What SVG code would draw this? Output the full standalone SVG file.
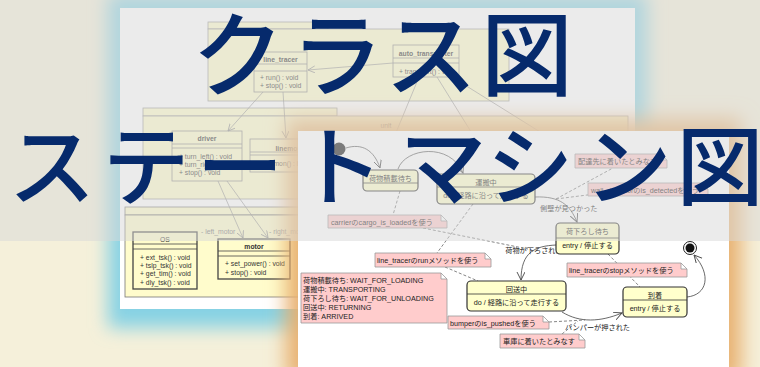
<svg xmlns="http://www.w3.org/2000/svg" width="760" height="367" viewBox="0 0 760 367">
<defs>
<style>
.pk{fill:#fffccc;stroke:#999;stroke-width:0.8}
.cl{fill:#fffccc;stroke:#888;stroke-width:0.8}
.cd{fill:#fffccc;stroke:#444;stroke-width:1.3}
.ln{stroke:#888;stroke-width:0.7;fill:none}
.ct{font-family:"Liberation Sans","Noto Sans CJK JP",sans-serif;font-size:6.8px;fill:#333}
.cb{font-weight:bold;text-anchor:middle}
.st{fill:#ffffcc;stroke:#333;stroke-width:1.2}
.sl{stroke:#333;stroke-width:0.8}
.tx{font-family:"Liberation Sans","Noto Sans CJK JP",sans-serif;font-size:7.2px;fill:#222}
.mid{text-anchor:middle}
.tr{stroke:#444;stroke-width:0.8;fill:none;marker-end:url(#sa)}
.ds{stroke:#666;stroke-width:0.8;fill:none;stroke-dasharray:3 2}
.nt{fill:#ffcccc;stroke:#999;stroke-width:0.8}
.big{font-family:"Noto Sans CJK JP",sans-serif;font-weight:500;fill:#062a6c;text-anchor:middle}
</style>
<marker id="oa" markerUnits="userSpaceOnUse" markerWidth="9" markerHeight="9" refX="7" refY="3.5" orient="auto"><path d="M0,0 L7,3.5 L0,7" fill="none" stroke="#888" stroke-width="0.8"/></marker>
<marker id="sa" markerUnits="userSpaceOnUse" markerWidth="10" markerHeight="10" refX="8" refY="4" orient="auto"><path d="M0,0 L8,4 L0,8" fill="none" stroke="#444" stroke-width="0.9"/></marker>
<filter id="bl" x="-20%" y="-20%" width="140%" height="140%"><feGaussianBlur stdDeviation="9"/></filter>
<filter id="bl2" x="-20%" y="-20%" width="140%" height="140%"><feGaussianBlur stdDeviation="10"/></filter>
</defs>
<rect width="760" height="367" fill="#f5f0da"/>
<rect x="108" y="-6" width="539" height="334" fill="#86d2e4" filter="url(#bl)"/>

<g id="class-diagram">
<rect x="120" y="8" width="515" height="301" fill="#fff"/>
<g id="pkg-app"><rect class="pk" x="208" y="22" width="120" height="7"/><rect class="pk" x="208" y="29" width="301" height="72"/></g>
<g id="pkg-unit"><rect class="pk" x="143" y="108" width="194" height="8"/><rect class="pk" x="143" y="116" width="485" height="83"/><text class="ct mid" x="386" y="128">unit</text></g>
<g id="pkg-os"><rect class="pk" x="125" y="207" width="320" height="8" style="stroke:#777"/><rect class="pk" x="125" y="215" width="420" height="82" style="stroke:#777"/></g>
<g id="line_tracer"><rect class="cl" x="254" y="52" width="53" height="40"/><path class="sl" d="M254,64H307M254,71H307" style="stroke:#888"/><text class="ct cb" x="280.5" y="61.5">line_tracer</text><text class="ct" x="260" y="79.5">+ run() : void</text><text class="ct" x="260" y="87.5">+ stop() : void</text></g>
<g id="auto_transporter"><rect class="cl" x="393" y="45" width="66" height="32"/><path class="sl" d="M393,58H459M393,63H459" style="stroke:#888"/><text class="ct cb" x="426" y="55.5" font-size="6.5">auto_transporter</text><text class="ct" x="399" y="73.5">+ transport() : void</text></g>
<g id="driver"><rect class="cl" x="172" y="131" width="70" height="50"/><path class="sl" d="M172,144H242M172,148H242" style="stroke:#888"/><text class="ct cb" x="207" y="140.5">driver</text><text class="ct" x="179" y="158.5">+ turn_left() : void</text><text class="ct" x="179" y="166.5">+ turn_right() : void</text><text class="ct" x="179" y="174.5">+ stop() : void</text></g>
<g id="linemonitor"><rect class="cl" x="250" y="139" width="90" height="33"/><path class="sl" d="M250,152H340M250,155H340" style="stroke:#888"/><text class="ct cb" x="294" y="150.5">linemonitor</text><text class="ct" x="257" y="165.5">+ linemon() : bool</text></g>
<g id="OS"><rect class="cd" x="133" y="232" width="64" height="57"/><path class="sl" d="M133,244H197M133,249H197" style="stroke:#444"/><text class="ct mid" x="165" y="241.5">OS</text><text class="ct" x="140" y="259.5">+ ext_tsk() : void</text><text class="ct" x="140" y="267.5">+ tslp_tsk() : void</text><text class="ct" x="140" y="275.5">+ get_tim() : void</text><text class="ct" x="140" y="284.5">+ dly_tsk() : void</text></g>
<g id="motor"><rect class="cd" x="218" y="239" width="72" height="40"/><path class="sl" d="M218,251H290M218,256H290" style="stroke:#444"/><text class="ct cb" x="254" y="248.5">motor</text><text class="ct" x="225" y="265.5">+ set_power() : void</text><text class="ct" x="225" y="274.5">+ stop() : void</text></g>
<g id="class-connectors">
<line class="ln" x1="393" y1="63" x2="308" y2="70" marker-end="url(#oa)"/>
<line class="ln" x1="419" y1="77" x2="395" y2="135"/>
<line class="ln" x1="437" y1="77" x2="473" y2="135"/>
<line class="ln" x1="452" y1="77" x2="545" y2="135"/>
<line class="ln" x1="263" y1="92" x2="228" y2="131" marker-end="url(#oa)"/>
<line class="ln" x1="283" y1="92" x2="286" y2="138" marker-end="url(#oa)"/>
<line class="ln" x1="218" y1="181" x2="243" y2="238" marker-end="url(#oa)"/>
<line class="ln" x1="227" y1="181" x2="268" y2="238" marker-end="url(#oa)"/>
<text class="ct" x="201" y="233.5" style="fill:#777">- left_motor</text>
<text class="ct" x="269" y="233.5" style="fill:#777">- right_motor</text>
</g>
</g>

<rect x="286" y="119" width="455" height="262" fill="#e8b070" filter="url(#bl2)"/>

<g id="state-diagram">
<rect x="298" y="131" width="431" height="236" fill="#fff"/>
<g id="state-connectors">
<path class="tr" d="M346,148 C362,143 374,150 380,168"/>
<path class="tr" d="M398,169 C405,148 450,142 463,173"/>
<path class="tr" d="M535,197 C560,196 570,205 577,222"/>
<path class="tr" d="M556,245 C535,246 521,252 521,280"/>
<path class="tr" d="M562,312 C580,323 600,322 622,313"/>
<path class="tr" d="M687,297 C707,295 712,275 694,255"/>
<path class="ds" d="M400,191 L393,215"/>
<path class="ds" d="M423,228 L528,249"/>
<path class="ds" d="M473,204 L437,253"/>
<path class="ds" d="M445,267 L478,281"/>
<path class="ds" d="M556,199 L613,168"/>
<path class="ds" d="M556,199 L595,194"/>
<path class="ds" d="M608,254 L640,287"/>
<path class="ds" d="M549,322 L585,320"/>
<path class="ds" d="M562,334 L578,321"/>
<text class="tx" x="540" y="210.5">側壁が見つかった</text>
<text class="tx mid" x="534" y="252.5">荷物が下ろされた</text>
<text class="tx" x="565" y="329.5">バンパーが押された</text>
</g>
<g id="initial"><circle cx="339" cy="149" r="6.5" fill="#1a1a1a"/></g>
<g id="final"><circle cx="690" cy="248" r="6.5" fill="#fff" stroke="#222" stroke-width="1"/><circle cx="690" cy="248" r="4.5" fill="#111"/></g>
<g id="wait-loading"><rect class="st" x="363" y="170" width="55" height="21" rx="4"/><path class="sl" d="M363,183H418"/><text class="tx mid" x="390.5" y="180.5">荷物積載待ち</text></g>
<g id="transporting"><rect class="st" x="437" y="174" width="98" height="30" rx="4"/><path class="sl" d="M437,187H535"/><text class="tx mid" x="486" y="184.5">運搬中</text><text class="tx mid" x="486" y="198">do / 経路に沿って走行する</text></g>
<g id="wait-unloading"><rect class="st" x="556" y="223" width="63" height="31" rx="4"/><path class="sl" d="M556,238H619"/><text class="tx mid" x="587.5" y="234">荷下ろし待ち</text><text class="tx mid" x="587.5" y="248">entry / 停止する</text></g>
<g id="returning"><rect class="st" x="467" y="281" width="99" height="30" rx="4"/><path class="sl" d="M467,294H566"/><text class="tx mid" x="516.5" y="291.5">回送中</text><text class="tx mid" x="516.5" y="304.5">do / 経路に沿って走行する</text></g>
<g id="arrived"><rect class="st" x="623" y="287" width="64" height="30" rx="4"/><path class="sl" d="M623,300H687"/><text class="tx mid" x="655" y="297.5">到着</text><text class="tx mid" x="655" y="310.5">entry / 停止する</text></g>
<g id="note-carrier"><path class="nt" d="M328,215H441L447,221V228H328Z M441,215V221H447"/><text class="tx" x="331" y="224.5">carrierのcargo_is_loadedを使う</text></g>
<g id="note-dest"><path class="nt" d="M575,154H661L667,160V168H575Z M661,154V160H667"/><text class="tx" x="578" y="164">配達先に着いたとみなす</text></g>
<g id="note-wall"><path class="nt" d="M588,183H702L708,189V196H588Z M702,183V189H708"/><text class="tx" x="591" y="192.5">wall_detectorのis_detectedを使う</text></g>
<g id="note-run"><path class="nt" d="M375,253H485L491,259V267H375Z M485,253V259H491"/><text class="tx" x="377" y="263">line_tracerのrunメソッドを使う</text></g>
<g id="note-states"><path class="nt" d="M301,273H441L447,279V323H301Z M441,273V279H447"/><text class="tx" x="303" y="282.5">荷物積載待ち: WAIT_FOR_LOADING</text><text class="tx" x="303" y="291.5">運搬中: TRANSPORTING</text><text class="tx" x="303" y="300.5">荷下ろし待ち: WAIT_FOR_UNLOADING</text><text class="tx" x="303" y="309.5">回送中: RETURNING</text><text class="tx" x="303" y="318.5">到着: ARRIVED</text></g>
<g id="note-stop"><path class="nt" d="M567,263H681L687,269V277H567Z M681,263V269H687"/><text class="tx" x="569" y="273">line_tracerのstopメソッドを使う</text></g>
<g id="note-bumper"><path class="nt" d="M448,316H543L549,322V329H448Z M543,316V322H549"/><text class="tx" x="450" y="325.5">bumperのis_pushedを使う</text></g>
<g id="note-garage"><path class="nt" d="M500,334H579L585,340V348H500Z M579,334V340H585"/><text class="tx" x="503" y="344">車庫に着いたとみなす</text></g>
</g>

<rect x="0" y="0" width="760" height="241" fill="#d8d8d8" opacity="0.514"/>

<g id="titles">
<text class="big" font-size="92" x="238 337 431 527" y="89">クラス図</text>
<text class="big" font-size="87" x="52 146 240 340 443 530 628 720" y="199">ステートマシン図</text>
</g>
</svg>
